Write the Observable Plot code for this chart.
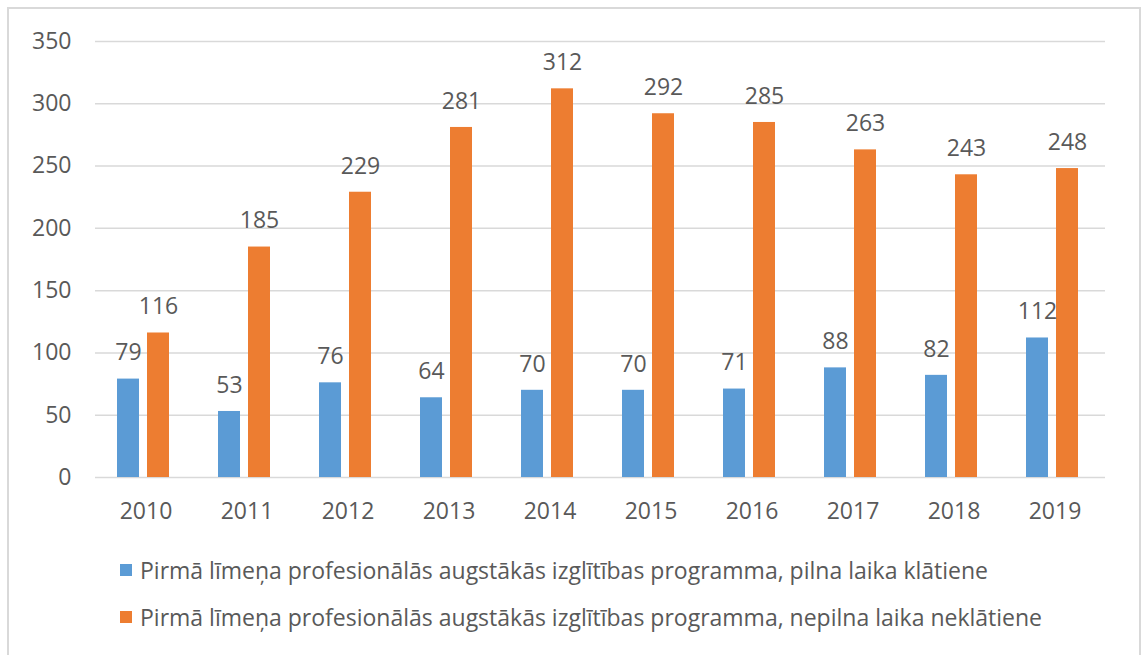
<!DOCTYPE html>
<html><head><meta charset="utf-8">
<script src="https://cdn.jsdelivr.net/npm/d3@7"></script>
<script src="https://cdn.jsdelivr.net/npm/@observablehq/plot@0.6"></script>
<style>
body{margin:0;background:#fff;font-family:"Open Sans",sans-serif;}
#frame{position:absolute;left:7px;top:7px;width:1134px;height:660px;border:2px solid #d9d9d9;box-sizing:border-box;}
#chart{position:absolute;left:0;top:0;}
#legend{position:absolute;left:120px;top:0;color:#595959;font-size:23px;}
.row{position:absolute;left:0;white-space:nowrap;display:flex;align-items:center;height:30px;}
.sw{width:12px;height:12px;margin-right:8px;flex:none;}
</style></head>
<body>
<div id="frame"></div>
<div id="chart"></div>
<div id="legend"></div>
<script>
const years = ["2010","2011","2012","2013","2014","2015","2016","2017","2018","2019"];
const fullTime = [79,53,76,64,70,70,71,88,82,112];
const partTime = [116,185,229,281,312,292,285,263,243,248];
const seriesNames = [
  "Pirmā līmeņa profesionālās augstākās izglītības programma, pilna laika klātiene",
  "Pirmā līmeņa profesionālās augstākās izglītības programma, nepilna laika neklātiene"
];
const colors = ["#5B9BD5","#ED7D31"];
const yTicks = [0,50,100,150,200,250,300,350];

const data = years.flatMap((yr,i)=>[
  {year:yr, series:seriesNames[0], value:fullTime[i]},
  {year:yr, series:seriesNames[1], value:partTime[i]}
]);

const chart = Plot.plot({
  width:1141, height:545,
  marginLeft:91, marginRight:32, marginTop:41, marginBottom:68,
  style:{fontFamily:"'Open Sans', sans-serif", fontSize:"23px", color:"#595959", background:"transparent", overflow:"visible"},
  fx:{domain:years, padding:0, label:null, axis:"bottom", tickSize:0, tickPadding:25},
  x:{domain:seriesNames, paddingInner:0.27, paddingOuter:0.78, align:0.45, axis:null},
  y:{domain:[0,350], ticks:yTicks, label:null, tickSize:0, tickPadding:24, tickFormat:d=>String(d)},
  color:{domain:seriesNames, range:colors},
  marks:[
    Plot.ruleY(yTicks, {stroke:"#d9d9d9", strokeWidth:1.5}),
    Plot.barY(data, {fx:"year", x:"series", y:"value", fill:"series"}),
    Plot.text(data, {fx:"year", x:"series", y:"value", text:"value", dy:-26, fill:"#595959"})
  ]
});
document.getElementById("chart").appendChild(chart);

const legend = document.getElementById("legend");
seriesNames.forEach((name,i)=>{
  const row = document.createElement("div");
  row.className = "row";
  row.style.top = (555 + i*47) + "px";
  const sw = document.createElement("span");
  sw.className = "sw";
  sw.style.background = colors[i];
  const t = document.createElement("span");
  t.textContent = name;
  row.appendChild(sw); row.appendChild(t);
  legend.appendChild(row);
});
</script>
</body></html>
